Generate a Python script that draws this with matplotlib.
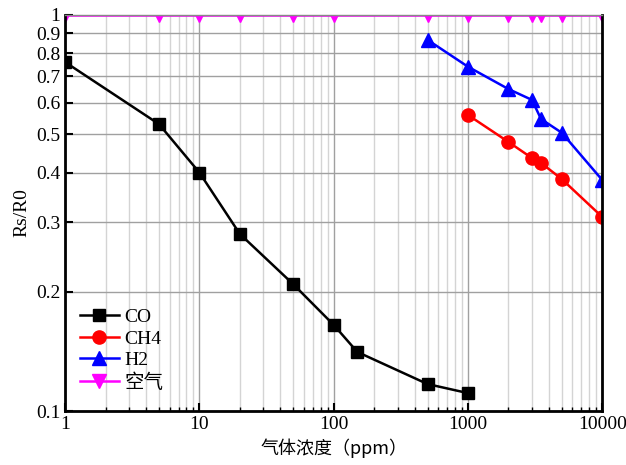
import numpy as np
import matplotlib.pyplot as plt
from matplotlib.ticker import FixedLocator, FixedFormatter, LogLocator, NullFormatter

# data
co_x = [1, 5, 10, 20, 50, 100, 150, 500, 1000]
co_y = [0.76, 0.53, 0.40, 0.28, 0.209, 0.165, 0.141, 0.117, 0.111]

ch4_x = [1000, 2000, 3000, 3500, 5000, 10000]
ch4_y = [0.559, 0.478, 0.435, 0.423, 0.385, 0.309]

h2_x = [500, 1000, 2000, 3000, 3500, 5000, 10000]
h2_y = [0.865, 0.74, 0.65, 0.61, 0.546, 0.504, 0.383]

air_x = [1, 5, 10, 20, 50, 100, 500, 1000, 2000, 3000, 3500, 5000, 10000]
air_y = [1.0] * len(air_x)

y_ticks = [0.1, 0.2, 0.3, 0.4, 0.5, 0.6, 0.7, 0.8, 0.9, 1.0]
y_labels = ['0.1', '0.2', '0.3', '0.4', '0.5', '0.6', '0.7', '0.8', '0.9', '1']
x_ticks = [1, 10, 100, 1000, 10000]
x_labels = ['1', '10', '100', '1000', '10000']

plt.rcParams['font.family'] = ['Liberation Serif', 'Noto Sans CJK SC']

fig = plt.figure(figsize=(6.26, 4.65), dpi=100)
ax = fig.add_axes([0.104, 0.116, 0.858, 0.852])

ax.plot(co_x, co_y, color='black', marker='s', ms=9, lw=1.8, label='CO')
ax.plot(ch4_x, ch4_y, color='red', marker='o', ms=9.5, lw=1.8, label='CH4')
ax.plot(h2_x, h2_y, color='blue', marker='^', ms=9.5, lw=1.8, label='H2')
ax.plot(air_x, air_y, color='magenta', marker='v', ms=9.5, lw=1.8, label='空气')

ax.set_xscale('log')
ax.set_yscale('log')
ax.set_xlim(1, 10000)
ax.set_ylim(0.1, 1.0)

ax.xaxis.set_major_locator(FixedLocator(x_ticks))
ax.xaxis.set_major_formatter(FixedFormatter(x_labels))
ax.xaxis.set_minor_locator(LogLocator(base=10, subs=np.arange(2, 10)))
ax.xaxis.set_minor_formatter(NullFormatter())
ax.yaxis.set_major_locator(FixedLocator(y_ticks))
ax.yaxis.set_major_formatter(FixedFormatter(y_labels))
ax.yaxis.set_minor_locator(FixedLocator([]))

ax.grid(True, which='major', color='#a0a0a0', lw=1.0)
ax.grid(True, which='minor', axis='x', color='#d4d4d4', lw=1.0)
ax.set_axisbelow(True)

ax.tick_params(which='major', direction='in', length=6, width=1.5, labelsize=14,
               top=False, right=False)
ax.tick_params(which='minor', direction='in', length=3, width=1.0, top=False, right=False)
for side in ['left', 'bottom', 'right']:
    ax.spines[side].set_linewidth(2)
ax.spines['top'].set_linewidth(1)
ax.spines['top'].set_color('#888888')

ax.set_xlabel('气体浓度（ppm）', fontsize=13, family=['Noto Sans CJK SC'], labelpad=4)
ax.set_ylabel('Rs/R0', fontsize=14, labelpad=4)

leg = ax.legend(loc='lower left', bbox_to_anchor=(-0.005, 0.005), frameon=False,
                fontsize=14, handlelength=2.0, labelspacing=0.2, handletextpad=0.3)

fig.savefig('out.png', dpi=100)
